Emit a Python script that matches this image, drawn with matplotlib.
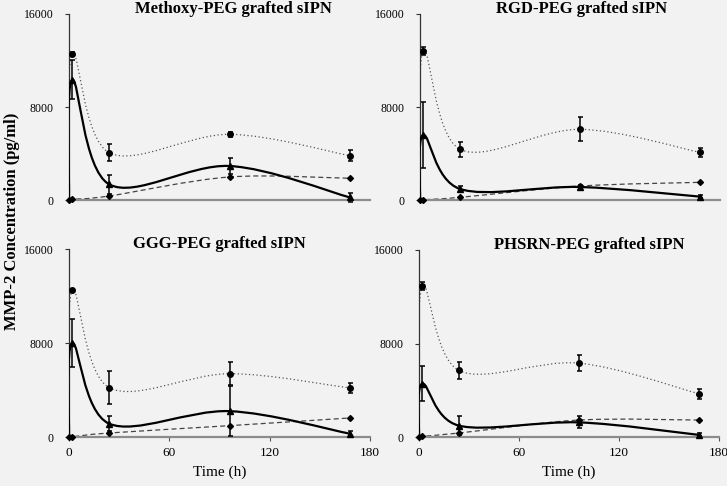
import numpy as np
import matplotlib
matplotlib.use("Agg")
import matplotlib.pyplot as plt
from matplotlib.path import Path
from matplotlib.patches import PathPatch

plt.rcParams['font.family'] = ['Liberation Serif', 'DejaVu Serif']

# ---- data ----
time_h = [0, 2, 24, 96, 168]
panel_titles = ["Methoxy-PEG grafted sIPN", "RGD-PEG grafted sIPN",
                "GGG-PEG grafted sIPN", "PHSRN-PEG grafted sIPN"]

# dotted series (circles)
dotted_vals = [
    [0, 12600, 4070, 5650, 3810],
    [0, 12820, 4360, 6080, 4100],
    [0, 12510, 4200, 5390, 4170],
    [0, 12920, 5690, 6320, 3700],
]
dotted_err = [
    [0, 150, 730, 200, 460],
    [0, 350, 645, 1020, 400],
    [0, 100, 1430, 960, 425],
    [0, 313, 755, 683, 413],
]
# solid series (triangles)
solid_vals = [
    [0, 10350, 1350, 2925, 220],
    [0, 5590, 950, 1120, 290],
    [0, 8000, 1135, 2200, 280],
    [0, 4560, 970, 1250, 180],
]
solid_err = [
    [0, 1700, 830, 730, 350],
    [0, 2800, 220, 150, 160],
    [0, 2060, 620, 2150, 230],
    [0, 1480, 825, 510, 120],
]
# dashed series (diamonds)
dashed_vals = [
    [0, 60, 344, 1980, 1870],
    [0, 20, 230, 1200, 1520],
    [0, 20, 340, 965, 1620],
    [0, 60, 340, 1450, 1450],
]

y_ticks = [0, 8000, 16000]
x_ticks = [0, 60, 120, 180]


def excel_smooth_path(xs, ys):
    pts = np.column_stack([xs, ys]).astype(float)
    n = len(pts)
    verts = [pts[0]]
    codes = [Path.MOVETO]
    for i in range(n - 1):
        p0 = pts[i - 1] if i > 0 else pts[i]
        p1 = pts[i]
        p2 = pts[i + 1]
        p3 = pts[i + 2] if i + 2 < n else pts[i + 1]
        c1 = p1 + (p2 - p0) / 6.0
        c2 = p2 - (p3 - p1) / 6.0
        verts += [c1, c2, p2]
        codes += [Path.CURVE4] * 3
    return Path(verts, codes)


W, H = 727, 486
fig = plt.figure(figsize=(W / 100, H / 100), dpi=100)
bg = '#f2f2f2'
fig.patch.set_facecolor(bg)

# axes rectangles in pixels: (x0, x1, y_top(16000), y_bottom(0))
rects = [(69, 370, 14, 200), (420, 720, 14, 200),
         (69, 370, 249, 437), (419, 719, 250, 437)]
title_pos = [0.545, 0.54, 0.50, 0.568]

for k, (x0, x1, yt, yb) in enumerate(rects):
    ax = fig.add_axes([x0 / W, 1 - yb / H, (x1 - x0) / W, (yb - yt) / H])
    ax.set_facecolor(bg)
    ax.set_xlim(0, 180)
    ax.set_ylim(0, 16000)
    for s in ['top', 'right']:
        ax.spines[s].set_visible(False)
    ax.spines['left'].set_color('#333333')
    ax.spines['left'].set_linewidth(0.9)
    ax.spines['bottom'].set_color('#8c8c8c')
    ax.spines['bottom'].set_linewidth(1.6)
    ax.set_yticks(y_ticks)
    ax.set_yticklabels([str(v) for v in y_ticks], fontsize=8.5)
    ax.tick_params(axis='y', length=3, width=0.8, pad=8, color='#333333')
    ax.set_xticks(x_ticks)
    if k < 2:
        ax.tick_params(axis='x', length=0, labelbottom=False)
    else:
        ax.set_xticklabels([str(v) for v in x_ticks], fontsize=9.5)
        ax.tick_params(axis='x', length=3, width=0.8, pad=4, color='#555555')
        ax.set_xlabel("Time (h)", fontsize=11, labelpad=5)

    # curves
    ax.add_patch(PathPatch(excel_smooth_path(time_h, dotted_vals[k]), fill=False,
                           ls=(0, (1, 2)), lw=0.9, color='#555555', zorder=2))
    ax.add_patch(PathPatch(excel_smooth_path(time_h, dashed_vals[k]), fill=False,
                           ls=(0, (4, 2.5)), lw=0.9, color='#444444', zorder=2))
    ax.add_patch(PathPatch(excel_smooth_path(time_h, solid_vals[k]), fill=False,
                           ls='-', lw=1.6, color='black', zorder=3))

    # markers + error bars
    ax.errorbar(time_h[1:], dotted_vals[k][1:], yerr=dotted_err[k][1:], fmt='o',
                ms=4, color='black', ecolor='black', elinewidth=1.1, capsize=1.8,
                capthick=1.1, zorder=4, clip_on=False)
    ax.errorbar(time_h[1:], solid_vals[k][1:], yerr=solid_err[k][1:], fmt='^',
                ms=4, color='black', ecolor='black', elinewidth=1.1, capsize=1.8,
                capthick=1.1, zorder=4, clip_on=False)
    ax.plot(time_h, dashed_vals[k], 'D', ms=3, color='black', zorder=4, clip_on=False)

    ax.text(title_pos[k], 1.025, panel_titles[k], transform=ax.transAxes,
            ha='center', va='center', fontsize=12, fontweight='bold')

fig.text(12 / W, 1 - 221 / H, "MMP-2 Concentration (pg/ml)", rotation=90,
         ha='center', va='center', fontsize=12, fontweight='bold')

fig.savefig("out.png", dpi=100, facecolor=bg)
